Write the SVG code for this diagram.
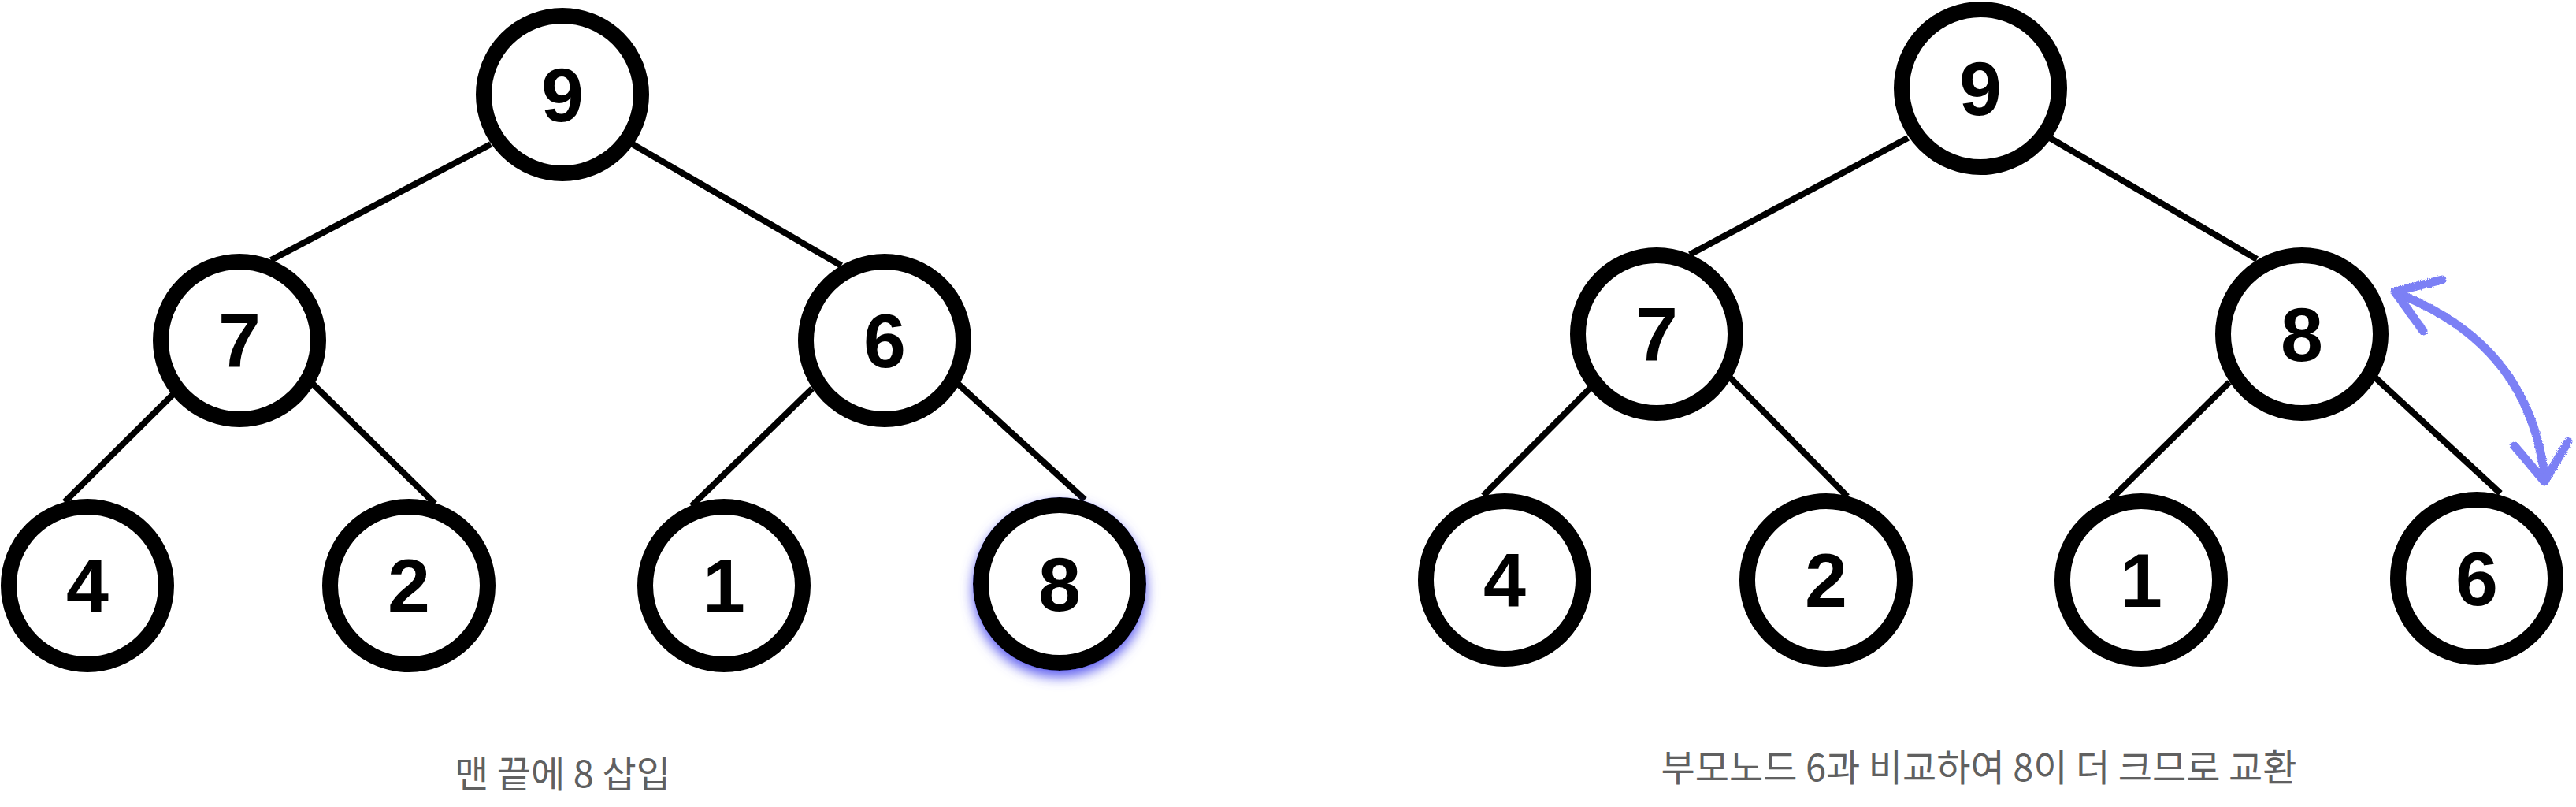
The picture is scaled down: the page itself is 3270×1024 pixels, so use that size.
<svg xmlns="http://www.w3.org/2000/svg" width="3270" height="1024" viewBox="0 0 3270 1024">
<style>
.edge{stroke:#000;stroke-width:8;fill:none}
.node circle{fill:#fff;stroke:#000;stroke-width:20}
.node text{font-family:"Liberation Sans",Arial,sans-serif;font-weight:bold;font-size:97px;text-anchor:middle;fill:#000}
.cap{font-family:"Noto Sans CJK KR","Noto Sans",sans-serif;font-size:47px;fill:#606060;text-anchor:middle}
.swap{stroke:#7b80f5;stroke-width:11;fill:none;stroke-linecap:round;stroke-linejoin:round}
</style>
<defs>
<filter id="glow" x="-30%" y="-30%" width="160%" height="170%">
<feDropShadow dx="0" dy="8" stdDeviation="8" flood-color="#5c5cf0" flood-opacity="1"/>
</filter>
<filter id="chalk" x="-10%" y="-10%" width="120%" height="120%">
<feTurbulence type="fractalNoise" baseFrequency="0.7" numOctaves="2" seed="3" result="n"/>
<feDisplacementMap in="SourceGraphic" in2="n" scale="4"/>
</filter>
</defs>
<rect width="3270" height="1024" fill="#fff"/>

<g id="connectors">
<line class="edge" x1="623" y1="183" x2="344" y2="330"/>
<line class="edge" x1="803" y1="183" x2="1068" y2="337"/>
<line class="edge" x1="222" y1="498" x2="82" y2="637"/>
<line class="edge" x1="397" y1="487" x2="552" y2="639"/>
<line class="edge" x1="1031" y1="493" x2="878" y2="642"/>
<line class="edge" x1="1216" y1="487" x2="1377" y2="634"/>
<line class="edge" x1="2422" y1="175" x2="2145" y2="323"/>
<line class="edge" x1="2602" y1="175" x2="2865" y2="329"/>
<line class="edge" x1="2021" y1="490" x2="1883" y2="629"/>
<line class="edge" x1="2196" y1="479" x2="2345" y2="630"/>
<line class="edge" x1="2830" y1="485" x2="2679" y2="634"/>
<line class="edge" x1="3015" y1="479" x2="3174" y2="626"/>
</g>

<g id="L9" class="node"><circle cx="714" cy="120" r="100"/><text x="714" y="154">9</text></g>
<g id="L7" class="node"><circle cx="304" cy="432" r="100"/><text x="304" y="466">7</text></g>
<g id="L6" class="node"><circle cx="1123" cy="432" r="100"/><text x="1123" y="466">6</text></g>
<g id="L4" class="node"><circle cx="111" cy="743" r="100"/><text x="111" y="777">4</text></g>
<g id="L2" class="node"><circle cx="519" cy="743" r="100"/><text x="519" y="777">2</text></g>
<g id="L1" class="node"><circle cx="919" cy="743" r="100"/><text x="919" y="777">1</text></g>
<g id="L8" class="node"><circle cx="1345" cy="741" r="100" filter="url(#glow)"/><text x="1345" y="775">8</text></g>

<g id="R9" class="node"><circle cx="2514" cy="112" r="100"/><text x="2514" y="146">9</text></g>
<g id="R7" class="node"><circle cx="2103" cy="424" r="100"/><text x="2103" y="458">7</text></g>
<g id="R8" class="node"><circle cx="2922" cy="424" r="100"/><text x="2922" y="458">8</text></g>
<g id="R4" class="node"><circle cx="1910" cy="736" r="100"/><text x="1910" y="770">4</text></g>
<g id="R2" class="node"><circle cx="2318" cy="736" r="100"/><text x="2318" y="770">2</text></g>
<g id="R1" class="node"><circle cx="2718" cy="736" r="100"/><text x="2718" y="770">1</text></g>
<g id="R6" class="node"><circle cx="3144" cy="734" r="100"/><text x="3144" y="768">6</text></g>

<g id="swap-arrow" filter="url(#chalk)">
<path class="swap" d="M3050,375 Q3210,440 3230,604"/>
<polyline class="swap" points="3100,355 3040,370 3076,420"/>
<polyline class="swap" points="3192,566 3230,611 3260,560"/>
</g>

<text class="cap" x="714" y="999">맨 끝에 8 삽입</text>
<text class="cap" x="2512" y="991">부모노드 6과 비교하여 8이 더 크므로 교환</text>
</svg>
